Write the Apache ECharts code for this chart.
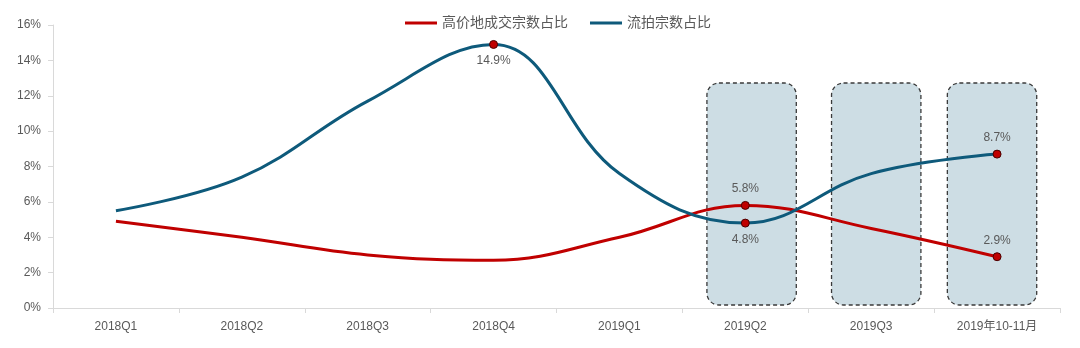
<!DOCTYPE html>
<html>
<head>
<meta charset="utf-8">
<script src="https://cdn.jsdelivr.net/npm/echarts@6/dist/echarts.min.js"></script>
<style>
  html, body { margin: 0; padding: 0; background: #fff; }
  #chart { width: 1080px; height: 348px; }
</style>
</head>
<body>
<div id="chart"></div>
<script>
// Categories and series values (percent)
var categories = ['2018Q1', '2018Q2', '2018Q3', '2018Q4', '2019Q1', '2019Q2', '2019Q3', '2019年10-11月'];
var highPriceShare = [4.9, 4.0, 3.0, 2.7, 4.0, 5.8, 4.5, 2.9];
var failedShare = [5.5, 7.4, 11.7, 14.9, 7.6, 4.8, 7.6, 8.7];
var seriesNames = ['高价地成交宗数占比', '流拍宗数占比'];
var yTicks = { min: 0, max: 16, interval: 2 };

// Points that carry a marker and a value label, with the label side
var highPriceMarks = { 5: 'top', 7: 'top' };
var failedMarks = { 3: 'bottom', 5: 'bottom', 7: 'top' };

// Highlighted periods (category indices) drawn as rounded dashed boxes
var highlightIdx = [5, 6, 7];
var highlightRange = [0.17, 12.72];

// Box layout: horizontal nudge (in category widths) and width share
var BOX_SHIFT = [0.05, 0.04, -0.04];
var BOX_WIDTH = 0.71;

var RED = '#c00000';
var BLUE = '#0e5a7b';
var TEXT = '#595959';
var FONT = "'Liberation Sans', 'Noto Sans CJK SC', sans-serif";

function buildData(values, marks) {
  return values.map(function (v, i) {
    if (marks[i]) {
      return {
        value: v,
        symbol: 'circle',
        symbolSize: 8,
        itemStyle: { color: RED, borderColor: '#4a0000', borderWidth: 1 },
        label: {
          show: true,
          position: marks[i],
          distance: 6,
          formatter: function (p) { return p.value.toFixed(1) + '%'; },
          color: TEXT,
          fontSize: 12,
          fontFamily: FONT
        }
      };
    }
    return { value: v, symbol: 'none' };
  });
}

var chart = echarts.init(document.getElementById('chart'));
var option = {
  animation: false,
  textStyle: { fontFamily: FONT },
  legend: {
    top: 11,
    left: 400,
    itemWidth: 32,
    itemHeight: 3,
    itemGap: 22,
    icon: 'rect',
    textStyle: { color: TEXT, fontSize: 14, fontFamily: FONT },
    data: seriesNames
  },
  grid: { left: 53, right: 20, top: 25, bottom: 40 },
  xAxis: {
    type: 'category',
    data: categories,
    boundaryGap: true,
    axisLine: { lineStyle: { color: '#d9d9d9', width: 1 } },
    axisTick: { show: true, length: 5, lineStyle: { color: '#d9d9d9' } },
    axisLabel: { color: TEXT, fontSize: 12, margin: 13, fontFamily: FONT }
  },
  yAxis: {
    type: 'value',
    min: yTicks.min,
    max: yTicks.max,
    interval: yTicks.interval,
    axisLine: { show: true, lineStyle: { color: '#d9d9d9', width: 1 } },
    axisTick: { show: true, length: 5, lineStyle: { color: '#d9d9d9' } },
    splitLine: { show: false },
    axisLabel: { color: TEXT, fontSize: 12, margin: 12, formatter: '{value}%', fontFamily: FONT }
  },
  series: [
    {
      name: seriesNames[0],
      type: 'line',
      smooth: 0.4,
      z: 3,
      color: RED,
      lineStyle: { color: RED, width: 3 },
      data: buildData(highPriceShare, highPriceMarks)
    },
    {
      name: seriesNames[1],
      type: 'line',
      smooth: 0.4,
      z: 4,
      color: BLUE,
      lineStyle: { color: BLUE, width: 3 },
      data: buildData(failedShare, failedMarks)
    }
  ]
};
chart.setOption(option);

// Rounded dashed boxes around the highlighted periods, placed through the axes
function drawHighlights() {
  var band = chart.convertToPixel({ xAxisIndex: 0 }, 1) - chart.convertToPixel({ xAxisIndex: 0 }, 0);
  var w = band * BOX_WIDTH;
  var yTop = chart.convertToPixel({ yAxisIndex: 0 }, highlightRange[1]);
  var yBot = chart.convertToPixel({ yAxisIndex: 0 }, highlightRange[0]);
  var elements = highlightIdx.map(function (idx, k) {
    var cx = chart.convertToPixel({ xAxisIndex: 0 }, idx) + BOX_SHIFT[k] * band;
    return {
      type: 'rect',
      z: 1,
      silent: true,
      shape: { x: cx - w / 2, y: yTop, width: w, height: yBot - yTop, r: 12 },
      style: { fill: '#cddde4', stroke: '#3a3a3a', lineWidth: 1.3, lineDash: [4, 3] }
    };
  });
  chart.setOption({ graphic: elements });
}
drawHighlights();
</script>
</body>
</html>
